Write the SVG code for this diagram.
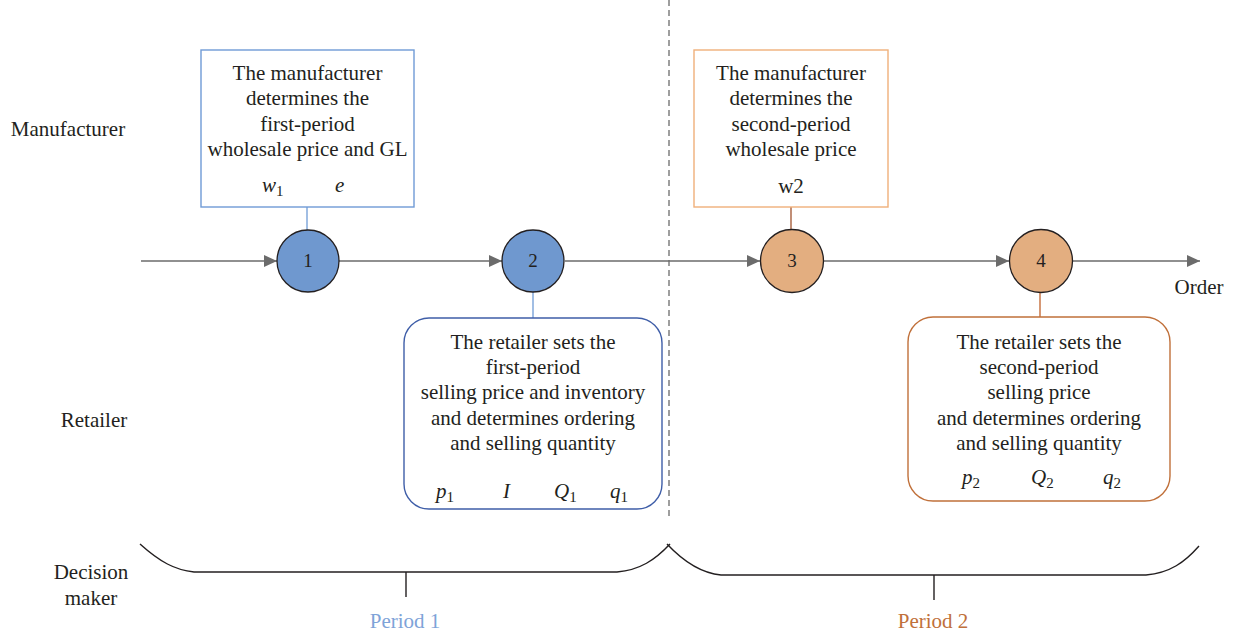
<svg xmlns="http://www.w3.org/2000/svg" width="1237" height="637" viewBox="0 0 1237 637">
<style>
text{font-family:"Liberation Serif","DejaVu Serif",serif;fill:#231f20;font-size:21px}
.c{text-anchor:middle}
.v{font-style:italic}
.sub{font-style:normal;font-size:15px}
.num{font-size:19px}
.flow{stroke:#6b6b6b;stroke-width:1.6;fill:none}
.brace{stroke:#231f20;stroke-width:1.4;fill:none}
.n1{fill:#6f98cf;stroke:#231f20;stroke-width:1.3}
.n2{fill:#e3ae80;stroke:#231f20;stroke-width:1.3}
</style>
<defs>
<marker id="ah" markerUnits="userSpaceOnUse" markerWidth="14" markerHeight="14" refX="13" refY="7" orient="auto">
<path d="M0,1 L13,7 L0,13 Z" fill="#6b6b6b"/>
</marker>
</defs>
<rect width="1237" height="637" fill="#fff"/>

<g id="labels">
<text class="c" x="68" y="136">Manufacturer</text>
<text class="c" x="94" y="427">Retailer</text>
<text class="c" x="91" y="579">Decision</text>
<text class="c" x="91" y="605">maker</text>
<text class="c" x="1199" y="294">Order</text>
</g>

<g id="divider">
<line x1="669" y1="0" x2="669" y2="518" stroke="#6b6b6b" stroke-width="1.3" stroke-dasharray="6,4"/>
</g>

<g id="connectors">
<line class="flow" x1="141" y1="261" x2="277" y2="261" marker-end="url(#ah)"/>
<line class="flow" x1="339" y1="261" x2="502" y2="261" marker-end="url(#ah)"/>
<line class="flow" x1="565" y1="261" x2="760" y2="261" marker-end="url(#ah)"/>
<line class="flow" x1="824" y1="261" x2="1009" y2="261" marker-end="url(#ah)"/>
<line class="flow" x1="1073" y1="261" x2="1200" y2="261" marker-end="url(#ah)"/>
<line x1="307" y1="207" x2="307" y2="230" stroke="#6f9bd6" stroke-width="1.3"/>
<line x1="533" y1="292" x2="533" y2="318" stroke="#6f9bd6" stroke-width="1.3"/>
<line x1="791" y1="207" x2="791" y2="229" stroke="#a0522d" stroke-width="1.3"/>
<line x1="1040" y1="293" x2="1040" y2="317" stroke="#c0612a" stroke-width="1.3"/>
</g>

<g id="box-m1">
<rect x="201" y="50" width="213" height="157" fill="#fff" stroke="#6f9bd6" stroke-width="1.4"/>
<text class="c" x="307.5" y="80">The manufacturer</text>
<text class="c" x="307.5" y="105">determines the</text>
<text class="c" x="307.5" y="131">first-period</text>
<text class="c" x="307.5" y="156">wholesale price and GL</text>
<text x="262" y="192" class="v">w<tspan class="sub" dy="4">1</tspan></text>
<text x="335" y="192" class="v">e</text>
</g>

<g id="box-m2">
<rect x="694" y="50" width="194" height="157" fill="#fff" stroke="#f0b07a" stroke-width="1.4"/>
<text class="c" x="791" y="80">The manufacturer</text>
<text class="c" x="791" y="105">determines the</text>
<text class="c" x="791" y="131">second-period</text>
<text class="c" x="791" y="156">wholesale price</text>
<text class="c" x="791" y="193">w2</text>
</g>

<g id="node-1">
<circle class="n1" cx="308" cy="261" r="31"/>
<text class="c num" x="308" y="267">1</text>
</g>
<g id="node-2">
<circle class="n1" cx="533" cy="261" r="31"/>
<text class="c num" x="533" y="267">2</text>
</g>
<g id="node-3">
<circle class="n2" cx="792" cy="261" r="31.5"/>
<text class="c num" x="792" y="267">3</text>
</g>
<g id="node-4">
<circle class="n2" cx="1041" cy="261" r="31.5"/>
<text class="c num" x="1041" y="267">4</text>
</g>

<g id="box-r1">
<rect x="404" y="318" width="258" height="191" rx="25" ry="25" fill="#fff" stroke="#3f5ea8" stroke-width="1.4"/>
<text class="c" x="533" y="349">The retailer sets the</text>
<text class="c" x="533" y="374">first-period</text>
<text class="c" x="533" y="399">selling price and inventory</text>
<text class="c" x="533" y="425">and determines ordering</text>
<text class="c" x="533" y="450">and selling quantity</text>
<text x="436" y="498" class="v">p<tspan class="sub" dy="4">1</tspan></text>
<text x="503" y="498" class="v">I</text>
<text x="554" y="498" class="v">Q<tspan class="sub" dy="4">1</tspan></text>
<text x="610" y="498" class="v">q<tspan class="sub" dy="4">1</tspan></text>
</g>

<g id="box-r2">
<rect x="908" y="317" width="262" height="184" rx="25" ry="25" fill="#fff" stroke="#c0703a" stroke-width="1.4"/>
<text class="c" x="1039" y="349">The retailer sets the</text>
<text class="c" x="1039" y="374">second-period</text>
<text class="c" x="1039" y="399">selling price</text>
<text class="c" x="1039" y="425">and determines ordering</text>
<text class="c" x="1039" y="450">and selling quantity</text>
<text x="962" y="484" class="v">p<tspan class="sub" dy="4">2</tspan></text>
<text x="1031" y="484" class="v">Q<tspan class="sub" dy="4">2</tspan></text>
<text x="1103" y="484" class="v">q<tspan class="sub" dy="4">2</tspan></text>
</g>

<g id="period-1">
<path class="brace" d="M140,544 C160,562 175,570 194,572 L617,572 C640,570 655,560 670,544"/>
<line class="brace" x1="406" y1="572" x2="406" y2="597"/>
<text class="c" x="405" y="628" style="fill:#7ea3d8">Period 1</text>
</g>
<g id="period-2">
<path class="brace" d="M667,544 C682,560 700,573 721,575 L1146,575 C1170,573 1185,562 1199,546"/>
<line class="brace" x1="934" y1="575" x2="934" y2="600"/>
<text class="c" x="933" y="628" style="fill:#c0703a">Period 2</text>
</g>
</svg>
